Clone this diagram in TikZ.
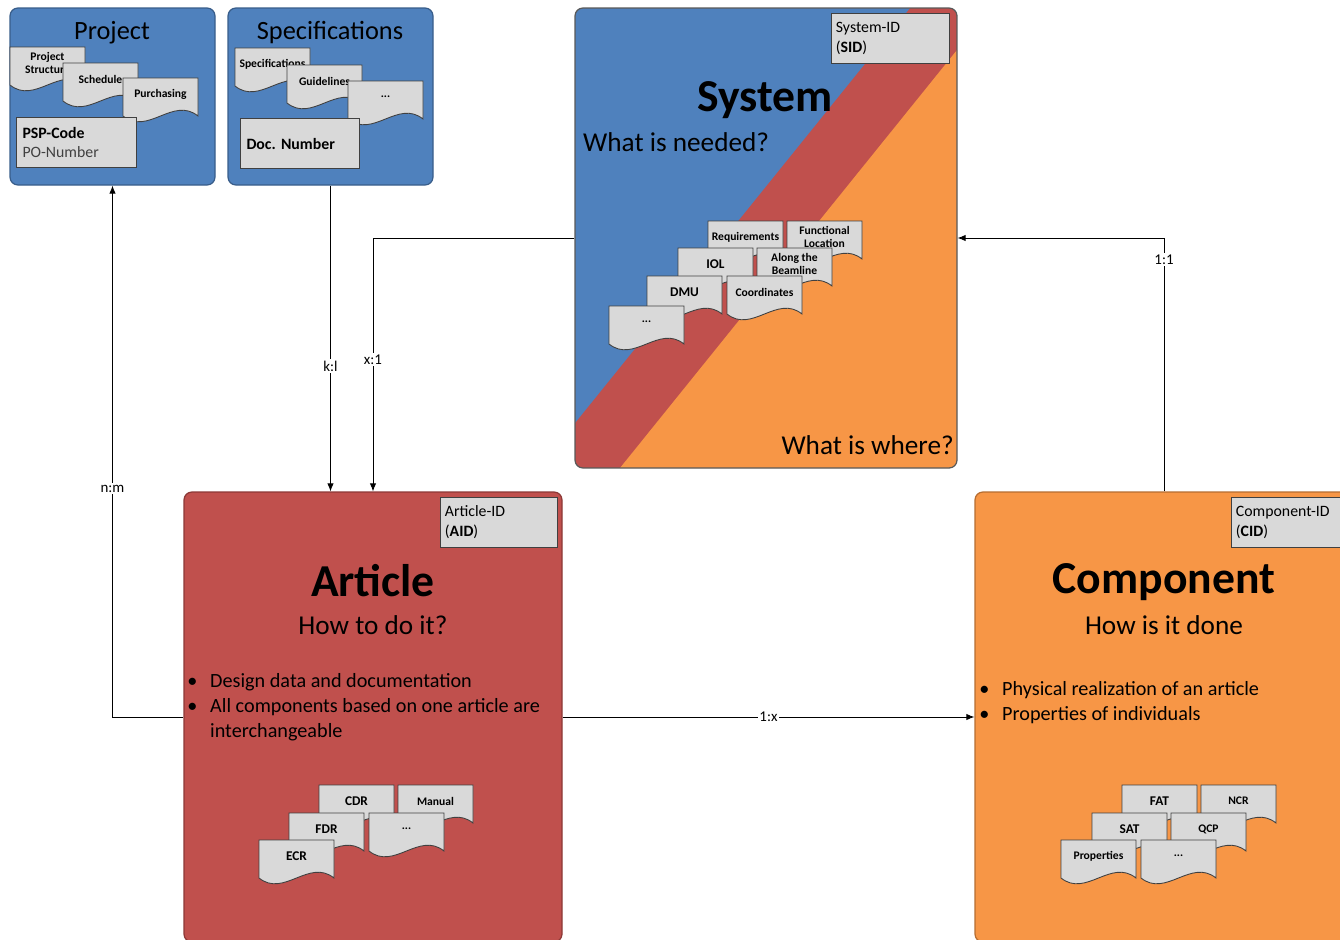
\documentclass[tikz,border=0pt]{standalone}
\usepackage{fontspec}
\setmainfont{Carlito}
\usepackage{tikz}
\usetikzlibrary{positioning,calc,fit}
\usetikzlibrary{arrows.meta}
\definecolor{PanelBlue}{RGB}{79,129,189}
\definecolor{PanelBlueDark}{RGB}{56,93,138}
\definecolor{PanelRed}{RGB}{192,80,77}
\definecolor{PanelRedDark}{RGB}{140,56,54}
\definecolor{PanelOrange}{RGB}{247,150,70}
\definecolor{PanelOrangeDark}{RGB}{182,109,49}
\definecolor{SheetGray}{RGB}{217,217,217}
\definecolor{EdgeGray}{RGB}{64,64,64}
\tikzset{
  panel/.style={rounded corners=4.5pt,inner sep=0pt,line width=0.7pt},
  idbox/.style={draw=EdgeGray,fill=SheetGray,line width=0.6pt,anchor=north west,
    inner xsep=2.5pt,inner ysep=0pt,minimum height=1cm,align=left,
    font=\fontsize{9}{11.3}\selectfont},
  sheet/.style={draw=EdgeGray,fill=SheetGray,line width=0.5pt},
  sheettext/.style={font=\fontsize{6.6}{7.8}\selectfont\bfseries,align=center,inner sep=0pt},
  sheetbig/.style={font=\fontsize{7.6}{9}\selectfont\bfseries},
  headline/.style={font=\fontsize{15}{18}\selectfont},
  bigtitle/.style={font=\fontsize{26}{30}\selectfont\bfseries},
  subtitle/.style={font=\fontsize{15.5}{18}\selectfont},
  bullets/.style={font=\fontsize{11.5}{14.2}\selectfont,align=left,anchor=north west,inner sep=0pt},
  link/.style={draw=black,line width=0.5pt,-{Latex[length=4.5pt,width=3.6pt]}},
  card/.style={fill=white,inner sep=1pt,font=\fontsize{8.5}{10}\selectfont},
}
% a sheet with a wavy lower edge, top left corner at (#3,#4)
\newcommand{\docsheet}[5][]{%
  \begin{scope}[shift={(#3,#4)}]
    \filldraw[sheet] (0,0) -- (75,0) -- (75,38) .. controls (50,18) and (25,58) .. (0,38) -- cycle;
    \node[sheettext,#1] (#2) at (37.5,16) {#5};
  \end{scope}}
\newcommand{\bmark}{\makebox[13pt][l]{\textbullet}}

\begin{document}
\begin{tikzpicture}[x=0.02cm,y=-0.02cm]
\clip (0,0) rectangle (1340,940);
% Project
\node[panel,draw=PanelBlueDark,fill=PanelBlue,fit={(10,8) (215,185)}] (project) {};
\node[headline] (projtitle) at (112,33) {Project};
\docsheet{psheet1}{10}{47}{Project\\Structure}
\docsheet{psheet2}{63}{63}{Schedule}
\docsheet{psheet3}{123}{78}{Purchasing}
\node[idbox,inner xsep=3.4pt,text width=2.16cm] (psp) at (16,117) {\textbf{PSP-Code}\\\textcolor{black!75}{PO-Number}};
% Specifications
\node[panel,draw=PanelBlueDark,fill=PanelBlue,fit={(228,8) (433,185)}] (specs) {};
\node[headline] (spectitle) at (330,33) {Specifications};
\docsheet{ssheet1}{235}{48}{Specifications}
\docsheet{ssheet2}{287}{65}{Guidelines}
\docsheet{ssheet3}{348}{81}{...}
\node[idbox,inner xsep=3.4pt,text width=2.14cm] (docnum) at (240,118) {\textbf{Doc.\ Number}};
% System
\begin{scope}
  \clip[rounded corners=4.5pt] (575,8) rectangle (957,468);
  \fill[PanelRed] (575,8) rectangle (957,468);
  \fill[PanelBlue] (575,8) -- (910,8) -- (575,423) -- cycle;
  \fill[PanelOrange] (620,468) -- (957,50) -- (957,468) -- cycle;
\end{scope}
\node[panel,draw=gray!70!black,fit={(575,8) (957,468)}] (system) {};
\node[idbox,text width=2.18cm] (sid) at (831,13) {System-ID\\(\textbf{SID})};
\node[bigtitle] (systitle) at (765,100) {System};
\node[subtitle,anchor=west] (needed) at (577,142) {What is needed?};
\node[subtitle,anchor=east] (where) at (960,445) {What is where?};
\docsheet{ysheet1}{708}{221}{Requirements}
\docsheet{ysheet2}{787}{221}{Functional\\Location}
\docsheet[sheetbig]{ysheet3}{678}{248}{IOL}
\docsheet{ysheet4}{757}{248}{Along the\\Beamline}
\docsheet[sheetbig]{ysheet5}{647}{276}{DMU}
\docsheet{ysheet6}{727}{276}{Coordinates}
\docsheet{ysheet7}{609}{306}{...}
% Article
\node[panel,draw=PanelRedDark,fill=PanelRed,fit={(184,492) (562,942)}] (article) {};
\node[idbox,text width=2.16cm] (aid) at (440,497) {Article-ID\\(\textbf{AID})};
\node[bigtitle] (arttitle) at (373,581) {Article};
\node[subtitle] (artsub) at (373,625) {How to do it?};
\node[bullets] (artlist) at (187,673)
  {\bmark Design data and documentation\\\bmark All components based on one article are\\\hspace*{13pt}interchangeable};
\docsheet[sheetbig]{asheet1}{319}{785}{CDR}
\docsheet{asheet2}{398}{785}{Manual}
\docsheet[sheetbig]{asheet3}{289}{813}{FDR}
\docsheet{asheet4}{369}{813}{...}
\docsheet[sheetbig]{asheet5}{259}{840}{ECR}
% Component
\node[panel,draw=PanelOrangeDark,fill=PanelOrange,fit={(975,492) (1353,942)}] (component) {};
\node[idbox,text width=2.3cm] (cid) at (1231,497) {Component-ID\\(\textbf{CID})};
\node[bigtitle] (comptitle) at (1164,582) {Component};
\node[subtitle] (compsub) at (1164,625) {How is it done};
\node[bullets] (complist) at (979,681)
  {\bmark Physical realization of an article\\\bmark Properties of individuals};
\docsheet[sheetbig]{csheet1}{1122}{785}{FAT}
\docsheet{csheet2}{1201}{785}{NCR}
\docsheet[sheetbig]{csheet3}{1092}{813}{SAT}
\docsheet{csheet4}{1171}{813}{QCP}
\docsheet{csheet5}{1061}{840}{Properties}
\docsheet{csheet6}{1141}{840}{...}
% relations
\draw[link] (article.west) -| node[card,pos=0.715] (lblnm) {n:m} (project.south);
\draw[link] (specs.south) -- node[card,pos=0.59] (lblkl) {k:l} (specs.south |- article.north);
\draw[link] (system.west) -| node[card,pos=0.74] (lblx1) {x:1} (article.north);
\draw[link] (article.east) -- node[card] (lbl1x) {1:x} (component.west);
\draw[link] (component.north) |- node[card,pos=0.457] (lbl11) {1:1} (system.east);
\end{tikzpicture}
\end{document}
